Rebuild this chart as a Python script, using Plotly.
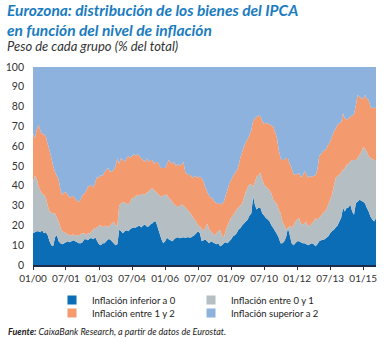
import pandas as pd
import plotly.graph_objects as go

# Monthly, Jan 2000 - Aug 2015. Cumulative upper boundaries (% of total)
months = pd.date_range("2000-01-01", periods=188, freq="MS")

# share of goods with inflation < 0
neg = [16, 16.5, 17, 17, 16.5, 17.5, 16, 16.5, 15, 12, 10, 9.6, 14, 15, 12, 11, 10.5, 11, 11.5, 12,
       11.5, 12, 12.5, 12, 11.5, 11, 11, 11.5, 13, 13, 12.5, 13.5, 13.5, 13, 14, 12, 10.5, 10, 11, 11,
       12, 13, 13, 12, 11, 10, 10.5, 17.8, 17, 16, 17, 17.5, 17, 18, 18.7, 19, 19, 19.5, 20, 19,
       20, 20.5, 19.5, 19.5, 20.5, 21, 22, 22, 19, 16, 13, 11, 12, 13.7, 13, 12.5, 12, 13, 13.7, 14,
       13.5, 13.7, 14, 13.7, 14, 14, 13.7, 14.5, 15, 16, 17, 16, 12, 12.5, 12.8, 12, 11, 12, 11.5, 11,
       10.5, 11, 9.5, 10, 11, 11.5, 11, 12, 13, 14.5, 15, 16, 17.8, 18.5, 20, 21, 22, 22.9, 25, 26,
       34.6, 30, 28, 29, 28.9, 26, 25, 23.7, 23, 22, 20, 18.7, 17, 15.5, 13.7, 11, 11, 12, 14, 18.7,
       15, 11, 10, 11, 12, 12, 11.5, 11, 11, 10.5, 10, 10.5, 11, 10.5, 9.5, 10.5, 12, 12.5, 12.8, 13,
       13.7, 14.5, 16, 17, 17.8, 19, 20, 22, 24, 28.9, 27, 28.9, 29, 30.5, 27, 25.4, 31.3, 32, 33, 32.5,
       32, 31, 28.9, 27, 24.5, 23, 22, 23.7]

# cumulative share of goods with inflation < 1
upto1 = [42, 45, 44, 40, 37.5, 36, 35.5, 34, 30, 27, 26.5, 26, 26, 24, 22, 19, 17, 16.5, 16, 15.5,
         15, 15, 15.5, 14.5, 15, 15, 15.5, 16, 16, 15, 16, 16, 17, 18, 18.7, 19, 20, 20, 19, 20,
         19.5, 19.5, 20, 21, 22, 20, 20, 30, 31, 32, 31.5, 31, 30.5, 32, 33.8, 34, 35, 35.5, 35, 35.5,
         36, 35.5, 36.5, 37, 38, 38.8, 38, 37, 36, 35, 34.5, 35, 35.5, 35.5, 34, 33, 32, 30.5, 30, 29,
         30, 30.5, 30, 29, 28, 27, 26, 24.5, 23, 22, 20, 19.5, 18.5, 17, 19, 21, 18, 17, 16, 15,
         16, 17, 17.8, 15, 14, 17, 20, 22, 24, 25, 26.5, 28, 29, 30, 31, 34, 37, 39, 41, 40.5,
         39.7, 42, 44.7, 45.5, 46.6, 43, 40.5, 39.5, 38.8, 37.5, 36, 33, 32, 30.5, 28, 26, 22, 20, 18, 18.5,
         20, 18.7, 20, 22, 23, 23.7, 21, 20.4, 21, 22, 19.5, 20, 21, 22, 23.7, 23, 23.7, 25, 26, 27,
         28, 30.5, 33, 35.5, 40, 44, 45, 45.5, 47, 48, 49, 50.6, 51, 52.3, 53, 53, 53, 54, 55.7, 57,
         59.8, 58.5, 57.3, 55, 54, 53.5, 53, 53]

# cumulative share of goods with inflation < 2
upto2 = [66.5, 64, 68, 71, 68, 66, 66, 65, 61, 58, 54, 50, 47, 45, 43, 38, 35.5, 36.5, 37, 35.5,
         34, 34.5, 35, 33.5, 32.5, 32, 33, 35.5, 36, 37.5, 39.7, 40, 40.5, 39, 42, 44.7, 44, 45.5, 45, 47,
         48, 49, 47, 47.5, 48, 50, 54, 51, 54, 53, 52, 54, 55, 54, 55, 56, 55, 56, 55, 54,
         53, 52, 54, 52, 53, 53, 51, 52, 52, 50, 49, 49, 49, 51, 53, 52, 51, 52, 50, 51,
         50, 51, 52, 47, 46, 45.5, 45.5, 44, 45, 44.7, 44, 44.7, 44, 42, 39, 37, 35, 34, 33.5, 32,
         31, 31.5, 30.5, 31, 32, 35, 38, 41, 43, 45, 46.5, 47.5, 50, 54, 57, 60, 62, 63.5, 65.7, 68,
         73, 74, 75, 75.5, 75, 73, 71, 72, 71.5, 71, 70.5, 70, 67, 64, 58, 54, 53, 53, 54, 54,
         51, 49, 46, 45.5, 46, 46.5, 44.5, 45, 47.5, 46, 44, 45, 44.7, 45, 45.5, 48, 55, 56, 57.3, 58,
         59, 61, 62.3, 65, 67.4, 69, 70.8, 71.6, 72, 76.6, 74, 73.3, 74, 75, 75.5, 76, 80.8, 85.9, 85, 84.2,
         84, 85.9, 84, 83.4, 80, 79.2, 79.5, 79.2]

series_names = ["Inflación inferior a 0", "Inflación entre 0 y 1",
                "Inflación entre 1 y 2", "Inflación superior a 2"]
tick_dates = ["2000-01-01", "2001-07-01", "2003-01-01", "2004-07-01", "2006-01-01", "2007-07-01",
              "2009-01-01", "2010-07-01", "2012-01-01", "2013-07-01", "2015-01-01"]
tick_text = ["01/00", "07/01", "01/03", "07/04", "01/06", "07/07",
             "01/09", "07/10", "01/12", "07/13", "01/15"]

colors = ["#0a6db5", "#b4bec3", "#f39a6e", "#8db2de"]

share_neg = neg
share_01 = [b - a for a, b in zip(neg, upto1)]
share_12 = [b - a for a, b in zip(upto1, upto2)]
share_2 = [100 - b for b in upto2]
shares = [share_neg, share_01, share_12, share_2]

fig = go.Figure()
for name, vals, col in zip(series_names, shares, colors):
    fig.add_trace(go.Scatter(
        x=months, y=vals, name=name, stackgroup="one", mode="none",
        fillcolor=col, line=dict(width=0, shape="linear"), showlegend=False,
        hoverinfo="skip"))

# legend entries (square swatches), two rows in two legends
for i, (name, col) in enumerate(zip(series_names, colors)):
    fig.add_trace(go.Scatter(
        x=[None], y=[None], mode="markers", name=name,
        marker=dict(symbol="square", size=9, color=col),
        legend="legend" if i < 2 else "legend2"))

W, H = 390, 338
L, R, T, B = 33, 14, 67, 73
plot_h = H - T - B
plot_w = W - L - R

def py(pix):
    return (H - B - pix) / plot_h

def px(pix):
    return (pix - L) / plot_w

font_main = "Lato, 'Open Sans', sans-serif"

legend_common = dict(
    orientation="h", xanchor="left", yanchor="middle",
    xref="container", yref="container", traceorder="normal",
    font=dict(family=font_main, size=9.5, color="#222222"),
    bgcolor="rgba(0,0,0,0)", entrywidth=94, entrywidthmode="pixels",
    itemwidth=30, tracegroupgap=0, itemclick=False, itemdoubleclick=False)

fig.update_layout(
    width=W, height=H,
    margin=dict(l=L, r=R, t=T, b=B, autoexpand=False),
    paper_bgcolor="white", plot_bgcolor="white",
    font=dict(family=font_main, color="#333333"),
    legend=dict(x=52 / W, y=1 - 300 / H, **legend_common),
    legend2=dict(x=52 / W, y=1 - 313 / H, **legend_common),
    xaxis=dict(
        type="date", range=["2000-01-01", "2015-08-01"],
        tickmode="array", tickvals=tick_dates, ticktext=tick_text, tickangle=0,
        showgrid=False, showline=True, linecolor="#1c2b4a", linewidth=1.5,
        ticks="outside", ticklen=3, tickcolor="#1c2b4a", tickwidth=1, automargin=False,
        tickfont=dict(size=10, color="#333333"), zeroline=False, fixedrange=True),
    yaxis=dict(
        range=[0, 100], tickmode="linear", tick0=0, dtick=10, automargin=False,
        showgrid=False, showline=False, zeroline=False, ticks="",
        ticklabelstandoff=8,
        tickfont=dict(size=10.5, color="#333333"), fixedrange=True),
    annotations=[
        dict(xref="paper", yref="paper", x=px(6), y=py(20), xanchor="left", yanchor="middle",
             align="left", showarrow=False, borderpad=0,
             text="<b><i>Eurozona: distribución de los bienes del IPCA<br>en función del nivel de inflación</i></b>",
             font=dict(family=font_main, size=15.5, color="#1b7cc0")),
        dict(xref="paper", yref="paper", x=px(6), y=py(46), xanchor="left", yanchor="middle",
             align="left", showarrow=False, borderpad=0,
             text="<i>Peso de cada grupo (% del total)</i>",
             font=dict(family=font_main, size=13, color="#333333")),
        dict(xref="paper", yref="paper", x=px(7), y=py(331), xanchor="left", yanchor="middle",
             align="left", showarrow=False, borderpad=0,
             text="<b><i>Fuente:</i></b><i> CaixaBank Research, a partir de datos de Eurostat.</i>",
             font=dict(family=font_main, size=9, color="#222222")),
    ],
)

fig.write_html("out.html")
